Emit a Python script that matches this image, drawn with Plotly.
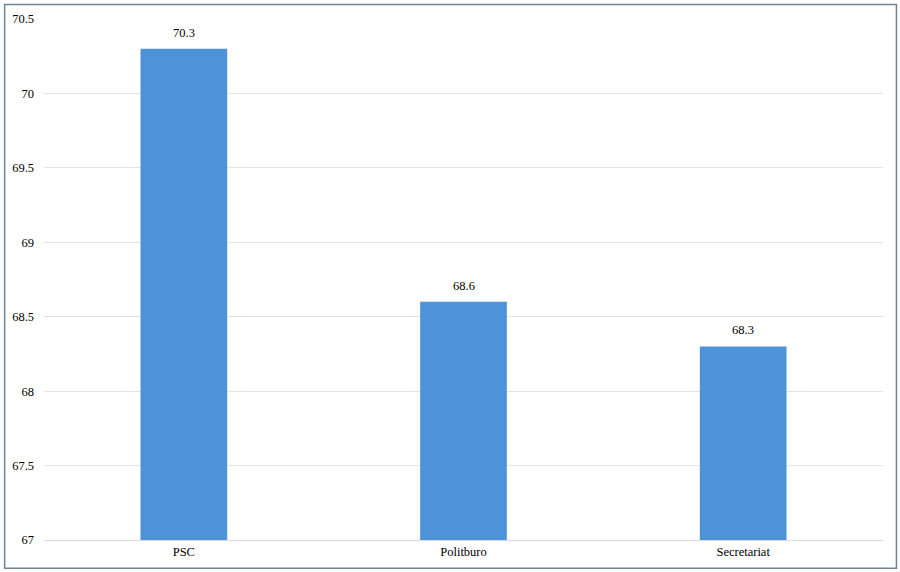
import plotly.graph_objects as go

categories = ["PSC", "Politburo", "Secretariat"]
values = [70.3, 68.6, 68.3]
tick_vals = [67, 67.5, 68, 68.5, 69, 69.5, 70, 70.5]
tick_text = ["67", "67.5", "68", "68.5", "69", "69.5", "70", "70.5"]

W, H = 900, 572
ml, mr, mt, mb = 41, 17, 16, 32
pw, ph = W - ml - mr, H - mt - mb

fig = go.Figure(go.Bar(
    x=categories, y=values,
    marker=dict(color="#4e93d9", line=dict(width=0)),
    width=0.31,
    hoverinfo="skip",
))

for c, v in zip(categories, values):
    fig.add_annotation(x=c, y=v, text=f"{v:.1f}", showarrow=False,
                       yanchor="bottom", yshift=7,
                       font=dict(family="Liberation Serif", size=12.5, color="#000000"))

fig.update_layout(
    width=W, height=H,
    margin=dict(l=ml, r=mr, t=mt, b=mb),
    paper_bgcolor="white", plot_bgcolor="white",
    font=dict(family="Liberation Serif", size=12.5, color="#000000"),
    showlegend=False,
    xaxis=dict(showgrid=False, showline=True, linecolor="#d9d9d9", linewidth=1,
               ticks="", tickfont=dict(size=12.5), range=[-0.5, 2.5]),
    yaxis=dict(range=[67, 70.5], tickvals=tick_vals, ticktext=tick_text,
               showgrid=True, gridcolor="#e3e3e3", gridwidth=1,
               zeroline=False, showline=False, ticks="", ticklabelstandoff=9,
               tickfont=dict(size=12.5)),
)

# outer frame of the image
fig.add_shape(type="rect", xref="paper", yref="paper",
              x0=(1.5 - ml) / pw, x1=(W - 3.5 - ml) / pw,
              y0=-(mb - 3.5) / ph, y1=1 + (mt - 1.5) / ph,
              line=dict(color="#6f8494", width=1.5), fillcolor="rgba(0,0,0,0)",
              layer="above")

fig.write_html("out.html", config={"displayModeBar": False},
               post_script="document.body.style.margin='0';document.body.style.overflow='hidden';")
